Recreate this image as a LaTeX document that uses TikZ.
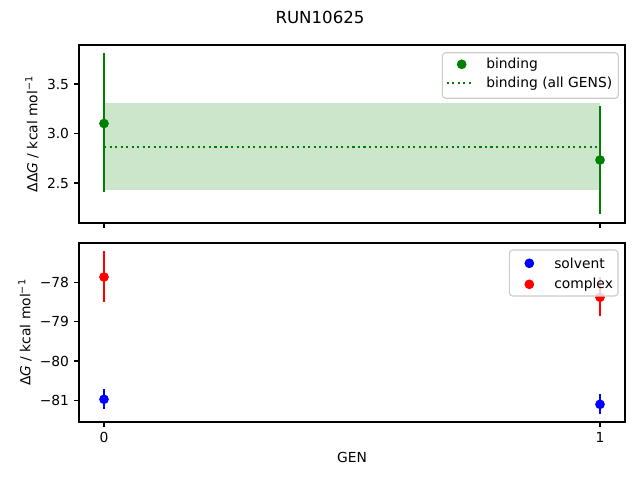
\documentclass[tikz,border=0pt]{standalone}
\usepackage{fontspec}
\setmainfont{DejaVu Sans}
\begin{document}
\begin{tikzpicture}[x=0.72bp,y=-0.72bp,
  spine/.style={line width=0.8bp,black},
  tickmark/.style={line width=0.8bp,black},
  ticklab/.style={font=\fontsize{10}{12}\selectfont,inner sep=0pt},
  ebar/.style={line width=1.5bp},
  dot/.style={circle,inner sep=0pt,minimum size=7bp},
  legbox/.style={draw=black!20,line width=0.8bp,fill=white,fill opacity=0.8,rounded corners=2.5bp},
  legtext/.style={font=\fontsize{10}{12}\selectfont,inner sep=0pt,anchor=west}]
\useasboundingbox (0,0) rectangle (640,480);
\definecolor{mgreen}{HTML}{008000}
\definecolor{mband}{HTML}{CCE6CC}
\definecolor{mred}{HTML}{FF0000}
\definecolor{mblue}{HTML}{0000FF}
% title
\node[font=\fontsize{12}{14}\selectfont] (title) at (320,17) {RUN10625};
% ---------- top axes ----------
\fill[mband] (104,103) rectangle (600,190);
\draw[mgreen,line width=1.5bp,dash pattern=on 1.5bp off 2.475bp] (104,147) -- (600,147);
\draw[ebar,mgreen] (104,53.3) -- (104,192.3);
\draw[ebar,mgreen] (600,106) -- (600,214);
\node[dot,fill=mgreen] (g0) at (104,123.5) {};
\node[dot,fill=mgreen] (g1) at (600,160) {};
\draw[spine] (79,45) rectangle (625,223);
\foreach \yy/\lab in {84/3.5,133.5/3.0,183/2.5}{
  \draw[tickmark] (79,\yy) -- (74.1,\yy);
  \node[ticklab,anchor=east] at (69.3,\yy) {\lab};
}
\foreach \xx in {104,600}{\draw[tickmark] (\xx,223) -- (\xx,227.9);}
\node[rotate=90,font=\fontsize{10}{12}\selectfont] (ylab1) at (32,134) {ΔΔ\textit{G} / kcal mol\textsuperscript{−1}};
% legend top
\draw[legbox] (442.3,52.7) rectangle (618.3,98.3);
\node[dot,fill=mgreen] (lg1) at (461.7,64.3) {};
\draw[mgreen,line width=1.5bp,dash pattern=on 1.5bp off 2.475bp] (446.7,83.3) -- (473.3,83.3);
\node[legtext] (lt1) at (486,64.3) {binding};
\node[legtext] (lt2) at (486,83.3) {binding (all GENS)};
% ---------- bottom axes ----------
\draw[ebar,mred] (104,251) -- (104,302.3);
\draw[ebar,mred] (600,277.3) -- (600,315.7);
\draw[ebar,mblue] (104,389) -- (104,408.7);
\draw[ebar,mblue] (600,394.3) -- (600,413.7);
\node[dot,fill=mred] (r0) at (104,277) {};
\node[dot,fill=mred] (r1) at (600,297.3) {};
\node[dot,fill=mblue] (b0) at (104,399.3) {};
\node[dot,fill=mblue] (b1) at (600,404.3) {};
\draw[spine] (79,243) rectangle (625,422);
\foreach \yy/\lab in {282.3/−78,321.6/−79,361/−80,400.3/−81}{
  \draw[tickmark] (79,\yy) -- (74.1,\yy);
  \node[ticklab,anchor=east] at (69.3,\yy) {\lab};
}
\foreach \xx/\lab in {104/0,600/1}{
  \draw[tickmark] (\xx,422) -- (\xx,426.9);
  \node[ticklab,anchor=north] at (\xx,431.7) {\lab};
}
\node[rotate=90,font=\fontsize{10}{12}\selectfont] (ylab2) at (25,332.5) {Δ\textit{G} / kcal mol\textsuperscript{−1}};
\node[font=\fontsize{10}{12}\selectfont] (xlab) at (352,457) {GEN};
% legend bottom
\draw[legbox] (509.3,250) rectangle (618,296);
\node[dot,fill=mblue] (lb1) at (529.3,263.3) {};
\node[dot,fill=mred] (lb2) at (529.3,284.3) {};
\node[legtext] (lt3) at (554,263.3) {solvent};
\node[legtext] (lt4) at (554,284.3) {complex};
\end{tikzpicture}
\end{document}
